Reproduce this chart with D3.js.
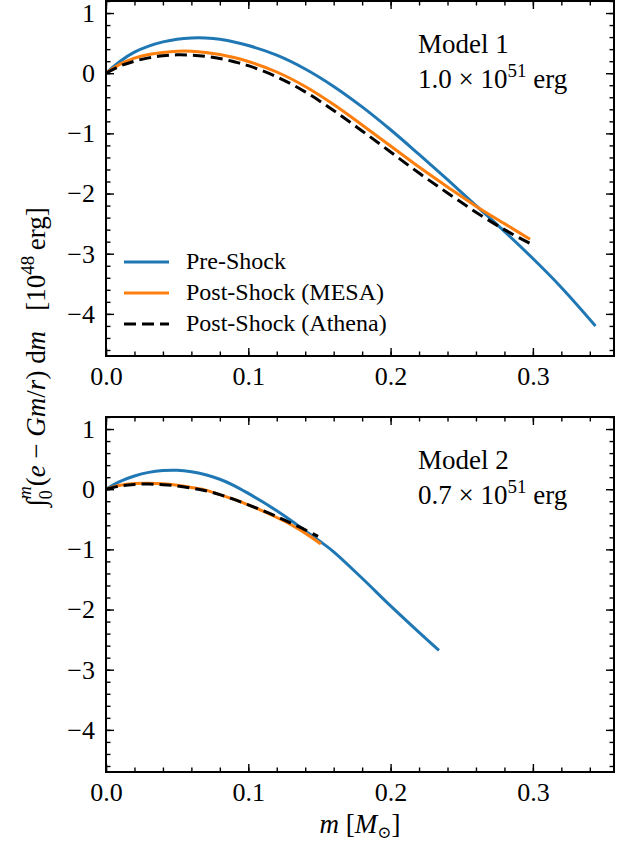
<!DOCTYPE html>
<html>
<head>
<meta charset="utf-8">
<script src="https://cdn.jsdelivr.net/npm/d3@7"></script>
<style>
    body { margin: 0; background: #fff; }
    svg { display: block; }
    text { font-family: "Liberation Serif", "DejaVu Serif", serif; fill: #000; }
</style>
</head>
<body>
<svg id="chart" width="630" height="845"></svg>
<script>

// Model 1, 1.0e51 erg
const preShock1M  = [0, 0.01, 0.02, 0.03, 0.04, 0.05, 0.06, 0.07, 0.08, 0.09, 0.1, 0.12, 0.14, 0.16, 0.18, 0.2, 0.22, 0.24, 0.26, 0.28, 0.3, 0.32, 0.344];
const preShock1E  = [0, 0.2, 0.35, 0.45, 0.52, 0.565, 0.585, 0.585, 0.565, 0.52, 0.46, 0.3, 0.07, -0.22, -0.56, -0.94, -1.35, -1.77, -2.2, -2.63, -3.08, -3.56, -4.2];

const mesa1M      = [0, 0.01, 0.02, 0.03, 0.04, 0.05, 0.06, 0.07, 0.08, 0.09, 0.1, 0.12, 0.14, 0.16, 0.18, 0.2, 0.22, 0.24, 0.26, 0.28, 0.298];
const mesa1E      = [0, 0.15, 0.25, 0.31, 0.345, 0.365, 0.365, 0.345, 0.31, 0.26, 0.195, 0.02, -0.22, -0.52, -0.86, -1.21, -1.56, -1.89, -2.21, -2.5, -2.76];

const athena1M    = [0, 0.01, 0.02, 0.03, 0.04, 0.05, 0.06, 0.07, 0.08, 0.09, 0.1, 0.12, 0.14, 0.16, 0.18, 0.2, 0.22, 0.24, 0.26, 0.28, 0.298];
const athena1E    = [0, 0.12, 0.2, 0.255, 0.29, 0.305, 0.3, 0.28, 0.245, 0.19, 0.125, -0.06, -0.31, -0.62, -0.96, -1.31, -1.66, -1.99, -2.31, -2.6, -2.83];

// Model 2, 0.7e51 erg
const preShock2M  = [0, 0.01, 0.02, 0.03, 0.04, 0.05, 0.06, 0.07, 0.08, 0.09, 0.1, 0.11, 0.12, 0.13, 0.14, 0.15, 0.16, 0.18, 0.2, 0.22, 0.234];
const preShock2E  = [0, 0.13, 0.22, 0.28, 0.31, 0.315, 0.29, 0.24, 0.165, 0.06, -0.07, -0.21, -0.36, -0.52, -0.69, -0.86, -1.04, -1.48, -1.94, -2.38, -2.68];

const mesa2M      = [0, 0.01, 0.02, 0.03, 0.04, 0.05, 0.06, 0.07, 0.08, 0.09, 0.1, 0.11, 0.12, 0.13, 0.14, 0.151];
const mesa2E      = [0, 0.065, 0.095, 0.1, 0.09, 0.065, 0.03, -0.015, -0.09, -0.17, -0.26, -0.36, -0.47, -0.59, -0.73, -0.91];

const athena2M    = [0, 0.01, 0.02, 0.03, 0.04, 0.05, 0.06, 0.07, 0.08, 0.09, 0.1, 0.11, 0.12, 0.13, 0.14, 0.149];
const athena2E    = [0, 0.055, 0.08, 0.085, 0.075, 0.055, 0.02, -0.025, -0.09, -0.17, -0.26, -0.355, -0.455, -0.565, -0.675, -0.785];

const xTicks = [0, 0.1, 0.2, 0.3];
const yTicks = [-4, -3, -2, -1, 0, 1];
const legendLabels = ["Pre-Shock", "Post-Shock (MESA)", "Post-Shock (Athena)"];
const modelNames = ["Model 1", "Model 2"];
const modelEnergies = ["1.0", "0.7"];


const svg = d3.select("#chart");

const left = 106, right = 614;
const panelTops = [1, 417],
    panelHeight = 355;

const x = d3.scaleLinear().domain([0, 0.357]).range([left, right]);

const xMinor = d3.range(0, 18).map(function (i) { return i * 0.02; });
const yMinor = d3.range(-23, 7).map(function (i) { return i * 0.2; });

const seriesStyle = [
    {color: "#1f77b4", dash: null},
    {color: "#ff7f0e", dash: null},
    {color: "#000000", dash: "12,6"}
];

const panels = [
    [[preShock1M, preShock1E], [mesa1M, mesa1E], [athena1M, athena1E]],
    [[preShock2M, preShock2E], [mesa2M, mesa2E], [athena2M, athena2E]]
];

panels.forEach(function (series, p) {
    const top = panelTops[p], bottom = top + panelHeight;
    const y = d3.scaleLinear().domain([-4.7, 1.2]).range([bottom, top]);
    const g = svg.append("g");

    const line = d3.line()
        .x(function (d) { return x(d[0]); })
        .y(function (d) { return y(d[1]); })
        .curve(d3.curveCatmullRom.alpha(0.5));

    series.forEach(function (s, i) {
        const pts = s[0].map(function (m, j) { return [m, s[1][j]]; });
        g.append("path")
            .datum(pts)
            .attr("d", line)
            .attr("fill", "none")
            .attr("stroke", seriesStyle[i].color)
            .attr("stroke-width", 3)
            .attr("stroke-dasharray", seriesStyle[i].dash);
    });

    // ticks, pointing inward on all four sides
    const addAxis = function (axis, tx, ty) {
        const a = g.append("g")
            .attr("transform", "translate(" + tx + "," + ty + ")")
            .call(axis);
        a.select(".domain").remove();
        a.selectAll("line").attr("stroke", "#000").attr("stroke-width", 1.4);
        a.selectAll("text")
            .attr("font-family", "Liberation Serif, DejaVu Serif, serif")
            .attr("font-size", 26)
            .attr("fill", "#000");
        return a;
    };

    addAxis(d3.axisBottom(x).tickValues(xTicks).tickSize(-8).tickPadding(11).tickFormat(d3.format(".1f")), 0, bottom);
    addAxis(d3.axisBottom(x).tickValues(xMinor).tickSize(-4.5).tickFormat(""), 0, bottom);
    addAxis(d3.axisTop(x).tickValues(xTicks).tickSize(-8).tickFormat(""), 0, top);
    addAxis(d3.axisTop(x).tickValues(xMinor).tickSize(-4.5).tickFormat(""), 0, top);

    addAxis(d3.axisLeft(y).tickValues(yTicks).tickSize(-8).tickPadding(11).tickFormat(d3.format("d")), left, 0);
    addAxis(d3.axisLeft(y).tickValues(yMinor).tickSize(-4.5).tickFormat(""), left, 0);
    addAxis(d3.axisRight(y).tickValues(yTicks).tickSize(-8).tickFormat(""), right, 0);
    addAxis(d3.axisRight(y).tickValues(yMinor).tickSize(-4.5).tickFormat(""), right, 0);

    g.append("rect")
        .attr("x", left)
        .attr("y", top)
        .attr("width", right - left)
        .attr("height", panelHeight)
        .attr("fill", "none")
        .attr("stroke", "#000")
        .attr("stroke-width", 2);

    // model label
    g.append("text")
        .attr("x", 418)
        .attr("y", top + 52)
        .attr("font-size", 27)
        .text(modelNames[p]);

    const en = g.append("text")
        .attr("x", 418)
        .attr("y", top + 87)
        .attr("font-size", 27);
    en.append("tspan").text(modelEnergies[p] + " \u00d7 10");
    en.append("tspan").attr("font-size", 19).attr("dy", -11).text("51");
    en.append("tspan").attr("dy", 11).text(" erg");
});

// legend in the upper panel
const legend = svg.append("g");
legendLabels.forEach(function (label, i) {
    const ly = 262 + i * 31;
    legend.append("line")
        .attr("x1", 124).attr("x2", 169)
        .attr("y1", ly).attr("y2", ly)
        .attr("stroke", seriesStyle[i].color)
        .attr("stroke-width", 3)
        .attr("stroke-dasharray", seriesStyle[i].dash);
    legend.append("text")
        .attr("x", 186)
        .attr("y", ly + 7)
        .attr("font-size", 24)
        .text(label);
});

// x label
const xl = svg.append("text")
    .attr("x", (left + right) / 2)
    .attr("y", 833)
    .attr("text-anchor", "middle")
    .attr("font-size", 27);
xl.append("tspan").attr("font-style", "italic").text("m");
xl.append("tspan").text(" [");
xl.append("tspan").attr("font-style", "italic").text("M");
xl.append("tspan").attr("font-size", 17).attr("dy", 5).text("\u2299");
xl.append("tspan").attr("dy", -5).text("]");

// y label
const yl = svg.append("text")
    .attr("transform", "translate(45,357) rotate(-90)")
    .attr("text-anchor", "middle")
    .attr("font-size", 27);
yl.append("tspan").text("\u222b");
yl.append("tspan").attr("font-size", 18).attr("dy", 7).text("0");
yl.append("tspan").attr("font-size", 18).attr("font-style", "italic").attr("dx", -9).attr("dy", -21).text("m");
yl.append("tspan").attr("dy", 14).text("(");
yl.append("tspan").attr("font-style", "italic").text("e");
yl.append("tspan").text(" \u2212 ");
yl.append("tspan").attr("font-style", "italic").text("Gm");
yl.append("tspan").text("/");
yl.append("tspan").attr("font-style", "italic").text("r");
yl.append("tspan").text(") d");
yl.append("tspan").attr("font-style", "italic").text("m");
yl.append("tspan").text("\u2002 [10");
yl.append("tspan").attr("font-size", 19).attr("dy", -11).text("48");
yl.append("tspan").attr("dy", 11).text("\u2009erg]");

</script>
</body>
</html>
